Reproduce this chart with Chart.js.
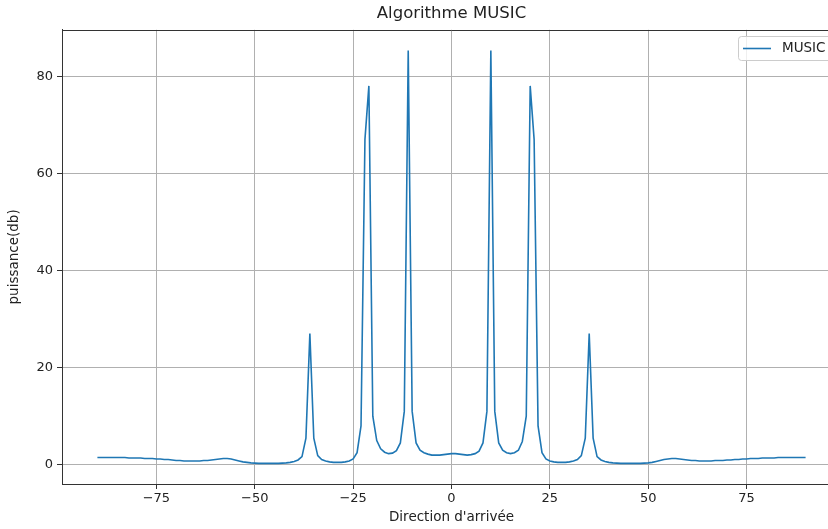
<!DOCTYPE html>
<html>
<head>
<meta charset="utf-8">
<title>Algorithme MUSIC</title>
<script src="https://cdn.jsdelivr.net/npm/chart.js"></script>
<style>
  html, body { margin: 0; padding: 0; background: #fff; overflow: hidden; }
  #wrap { width: 828px; height: 529px; overflow: hidden; }
  #chart { display: block; }
</style>
</head>
<body>
<div id="wrap"><canvas id="chart" width="860" height="529"></canvas></div>
<script>
  // direction of arrival (degrees)
  const angles = [
    -90, -89, -88, -87, -86, -85, -84, -83, -82, -81,
    -80, -79, -78, -77, -76, -75, -74, -73, -72, -71,
    -70, -69, -68, -67, -66, -65, -64, -63, -62, -61,
    -60, -59, -58, -57, -56, -55, -54, -53, -52, -51,
    -50, -49, -48, -47, -46, -45, -44, -43, -42, -41,
    -40, -39, -38, -37, -36, -35, -34, -33, -32, -31,
    -30, -29, -28, -27, -26, -25, -24, -23, -22, -21,
    -20, -19, -18, -17, -16, -15, -14, -13, -12, -11,
    -10, -9, -8, -7, -6, -5, -4, -3, -2, -1,
    0,
    1, 2, 3, 4, 5, 6, 7, 8, 9, 10,
    11, 12, 13, 14, 15, 16, 17, 18, 19, 20,
    21, 22, 23, 24, 25, 26, 27, 28, 29, 30,
    31, 32, 33, 34, 35, 36, 37, 38, 39, 40,
    41, 42, 43, 44, 45, 46, 47, 48, 49, 50,
    51, 52, 53, 54, 55, 56, 57, 58, 59, 60,
    61, 62, 63, 64, 65, 66, 67, 68, 69, 70,
    71, 72, 73, 74, 75, 76, 77, 78, 79, 80,
    81, 82, 83, 84, 85, 86, 87, 88, 89, 90
  ];

  // MUSIC pseudo-spectrum (db), one value per angle
  const musicPower = [
    1.5, 1.5, 1.5, 1.5, 1.5, 1.5, 1.5, 1.5, 1.4, 1.4,
    1.4, 1.4, 1.3, 1.3, 1.3, 1.2, 1.2, 1.1, 1.1, 1.0,
    0.9, 0.9, 0.8, 0.8, 0.8, 0.8, 0.8, 0.9, 0.9, 1.0,
    1.1, 1.2, 1.3, 1.3, 1.2, 1.0, 0.8, 0.6, 0.5, 0.4,
    0.35, 0.3, 0.3, 0.3, 0.3, 0.3, 0.3, 0.35, 0.4, 0.5,
    0.7, 1.0, 1.7, 5.5, 27.0, 5.5, 1.9, 1.1, 0.8, 0.6,
    0.5, 0.5, 0.5, 0.6, 0.8, 1.2, 2.5, 8.0, 67.0, 78.0,
    10.0, 5.0, 3.3, 2.6, 2.3, 2.4, 2.9, 4.5, 11.0, 85.3,
    11.0, 4.5, 3.0, 2.5, 2.2, 2.0, 2.0, 2.0, 2.1, 2.2,
    2.3,
    2.3, 2.2, 2.1, 2.0, 2.1, 2.3, 2.8, 4.5, 11.0, 85.3,
    11.0, 4.5, 3.0, 2.5, 2.3, 2.5, 3.0, 4.8, 10.0, 78.0,
    67.0, 8.0, 2.5, 1.2, 0.8, 0.6, 0.5, 0.5, 0.5, 0.6,
    0.8, 1.1, 1.9, 5.5, 27.0, 5.5, 1.7, 1.0, 0.7, 0.5,
    0.4, 0.35, 0.3, 0.3, 0.3, 0.3, 0.3, 0.3, 0.35, 0.4,
    0.5, 0.7, 0.9, 1.1, 1.2, 1.3, 1.3, 1.2, 1.1, 1.0,
    0.9, 0.9, 0.8, 0.8, 0.8, 0.8, 0.9, 0.9, 0.9, 1.0,
    1.0, 1.1, 1.1, 1.2, 1.2, 1.3, 1.3, 1.3, 1.4, 1.4,
    1.4, 1.4, 1.5, 1.5, 1.5, 1.5, 1.5, 1.5, 1.5, 1.5
  ];

  const xTicks = [-75, -50, -25, 0, 25, 50, 75];
  const yTicks = [0, 20, 40, 60, 80];

  const lineColor = '#1f77b4';
  const textColor = '#222';
  const gridColor = '#b0b0b0';
  const spineColor = '#333';

  Chart.defaults.font.family = "'DejaVu Sans', sans-serif";
  Chart.defaults.color = textColor;

  const minus = v => v < 0 ? '\u2212' + (-v) : String(v);

  // top spine + matplotlib style legend box in the upper right
  const framePlugin = {
    id: 'frame',
    afterDraw(chart) {
      const { ctx, chartArea: a } = chart;
      ctx.save();
      ctx.strokeStyle = spineColor;
      ctx.lineWidth = 1;
      ctx.beginPath();
      ctx.moveTo(Math.round(a.left), Math.round(a.top) + 0.5);
      ctx.lineTo(Math.round(a.right), Math.round(a.top) + 0.5);
      ctx.stroke();

      const ds = chart.data.datasets[0];
      const bx = Math.round(a.right) - 103, by = Math.round(a.top) + 6, bw = 96, bh = 24;
      ctx.fillStyle = 'rgba(255,255,255,0.8)';
      ctx.strokeStyle = '#cccccc';
      ctx.beginPath();
      ctx.roundRect(bx + 0.5, by + 0.5, bw, bh, 3);
      ctx.fill();
      ctx.stroke();

      const cy = by + bh / 2 + 0.5;
      ctx.strokeStyle = ds.borderColor;
      ctx.lineWidth = 1.6;
      ctx.beginPath();
      ctx.moveTo(bx + 5, cy);
      ctx.lineTo(bx + 33, cy);
      ctx.stroke();

      ctx.fillStyle = textColor;
      ctx.font = "13.5px 'DejaVu Sans', sans-serif";
      ctx.textBaseline = 'middle';
      ctx.textAlign = 'left';
      ctx.fillText(ds.label, bx + 44, cy);
      ctx.restore();
    }
  };

  const points = angles.map((a, i) => ({ x: a, y: musicPower[i] }));

  new Chart(document.getElementById('chart'), {
    type: 'line',
    data: {
      datasets: [{
        label: 'MUSIC',
        data: points,
        borderColor: lineColor,
        backgroundColor: lineColor,
        borderWidth: 1.6,
        pointRadius: 0,
        tension: 0,
        fill: false
      }]
    },
    options: {
      responsive: false,
      animation: false,
      layout: { padding: { left: 0, right: 19, top: 0, bottom: 0 } },
      plugins: {
        legend: { display: false },
        tooltip: { enabled: false },
        title: {
          display: true,
          fullSize: false,
          text: 'Algorithme MUSIC',
          color: textColor,
          font: { size: 16.5, weight: 'normal' },
          padding: { top: 4, bottom: 6 }
        }
      },
      scales: {
        x: {
          type: 'linear',
          min: -99,
          max: 99,
          afterBuildTicks: s => { s.ticks = xTicks.map(v => ({ value: v })); },
          afterFit: s => { s.height = 45; },
          grid: { color: gridColor, tickColor: spineColor, tickLength: 5 },
          border: { color: spineColor },
          ticks: { color: textColor, font: { size: 13 }, padding: 2, maxRotation: 0, callback: minus },
          title: {
            display: true,
            text: "Direction d'arrivée",
            color: textColor,
            font: { size: 13.5 },
            padding: { top: 0, bottom: 3 }
          }
        },
        y: {
          min: -3.95,
          max: 89.55,
          afterBuildTicks: s => { s.ticks = yTicks.map(v => ({ value: v })); },
          afterFit: s => { s.width = 62; },
          grid: { color: gridColor, tickColor: spineColor, tickLength: 5 },
          border: { color: spineColor },
          ticks: { color: textColor, font: { size: 13 }, padding: 4, callback: minus },
          title: {
            display: true,
            text: 'puissance(db)',
            color: textColor,
            font: { size: 13.5 },
            padding: { top: 6, bottom: 0 }
          }
        }
      }
    },
    plugins: [framePlugin]
  });
</script>
</body>
</html>
